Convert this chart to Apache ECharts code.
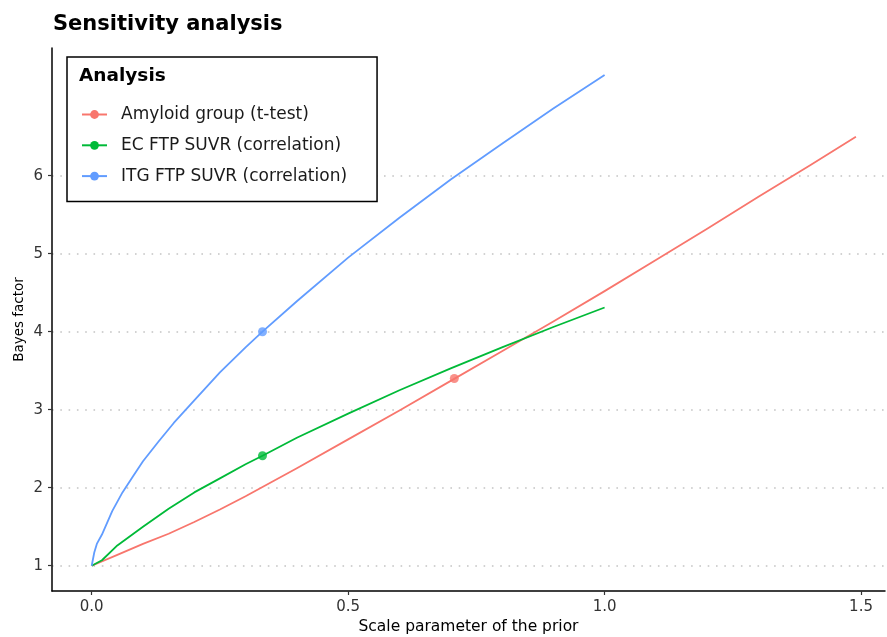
<!DOCTYPE html>
<html>
<head>
<meta charset="utf-8">
<title>Sensitivity analysis</title>
<script src="https://cdn.jsdelivr.net/npm/echarts@6/dist/echarts.min.js"></script>
<style>
  html, body { margin: 0; padding: 0; background: #fff; }
  #chart { width: 887px; height: 637px; }
</style>
</head>
<body>
<div id="chart"></div>
<script>
// values
var seriesNames = ['Amyloid group (t-test)', 'EC FTP SUVR (correlation)', 'ITG FTP SUVR (correlation)'];
var colors = ['#F8766D', '#00BA38', '#619CFF'];

var amyloidX  = [0, 0.05, 0.1, 0.15, 0.2, 0.25, 0.3, 0.35, 0.4, 0.5, 0.6, 0.7, 0.8, 0.9, 1.0, 1.1, 1.2, 1.3, 1.4, 1.49];
var amyloidBF = [1, 1.14, 1.28, 1.41, 1.56, 1.72, 1.89, 2.07, 2.25, 2.62, 2.99, 3.37, 3.75, 4.13, 4.52, 4.92, 5.32, 5.73, 6.13, 6.50];

var ecX  = [0, 0.02, 0.05, 0.1, 0.15, 0.2, 0.25, 0.3, 0.333, 0.4, 0.5, 0.6, 0.7, 0.8, 0.9, 1.0];
var ecBF = [1, 1.07, 1.26, 1.50, 1.73, 1.94, 2.12, 2.30, 2.41, 2.64, 2.95, 3.25, 3.53, 3.80, 4.06, 4.31];

var itgX  = [0, 0.005, 0.01, 0.02, 0.04, 0.06, 0.08, 0.1, 0.13, 0.16, 0.2, 0.25, 0.3, 0.333, 0.4, 0.5, 0.6, 0.7, 0.8, 0.9, 1.0];
var itgBF = [1, 1.17, 1.28, 1.40, 1.70, 1.94, 2.14, 2.34, 2.59, 2.83, 3.12, 3.48, 3.80, 4.00, 4.39, 4.95, 5.46, 5.95, 6.41, 6.86, 7.29];

// the single highlighted point on each curve
var markX  = [0.707, 0.333, 0.333];
var markBF = [3.40, 2.41, 4.00];

var xTicks = [0, 0.5, 1, 1.5];
var yTicks = [1, 2, 3, 4, 5, 6];

function pairs(xs, ys) {
  return xs.map(function (x, i) { return [x, ys[i]]; });
}

var chart = echarts.init(document.getElementById('chart'));
var font = 'DejaVu Sans, Liberation Sans, sans-serif';

var curves = [pairs(amyloidX, amyloidBF), pairs(ecX, ecBF), pairs(itgX, itgBF)];

var series = [];
curves.forEach(function (d, i) {
  series.push({
    name: seriesNames[i],
    type: 'line',
    data: d,
    smooth: false,
    symbol: 'none',
    color: colors[i],
    lineStyle: { width: 1.8, color: colors[i], join: 'round' },
    z: 3
  });
});
markX.forEach(function (x, i) {
  series.push({
    name: 'point ' + i,
    type: 'scatter',
    data: [[x, markBF[i]]],
    symbol: 'circle',
    symbolSize: 9,
    itemStyle: { color: colors[i] },
    z: 4
  });
});

var option = {
  animation: false,
  color: colors,
  title: {
    text: 'Sensitivity analysis',
    left: 48,
    top: 9,
    textStyle: { fontFamily: font, fontSize: 21, fontWeight: 'bold', color: '#000' }
  },
  legend: {
    data: seriesNames,
    orient: 'vertical',
    left: 67,
    top: 57,
    padding: [49, 30, 17, 14],
    itemWidth: 25,
    itemHeight: 11,
    itemGap: 13.8,
    backgroundColor: '#fff',
    borderColor: '#000',
    borderWidth: 1.5,
    textStyle: { fontFamily: font, fontSize: 17, color: '#1a1a1a', lineHeight: 17, padding: [0, 0, 0, 9] }
  },
  graphic: [{
    type: 'text',
    left: 79,
    top: 67,
    z: 100,
    style: { text: 'Analysis', fontFamily: font, fontSize: 18.5, fontWeight: 'bold', fill: '#000' }
  }],
  grid: {
    left: 52, right: 2, top: 48, bottom: 46,
    containLabel: false,
    outerBoundsMode: 'none'
  },
  xAxis: {
    type: 'value',
    min: -0.0774,
    max: 1.5467,
    name: 'Scale parameter of the prior',
    nameLocation: 'middle',
    nameGap: 28,
    nameMoveOverlap: false,
    nameTextStyle: { fontFamily: font, fontSize: 15.5, color: '#000' },
    axisLine: { show: true, onZero: false, lineStyle: { color: '#000', width: 1.5 } },
    axisTick: { show: true, length: 4, customValues: xTicks, lineStyle: { color: '#333', width: 1.2 } },
    axisLabel: {
      customValues: xTicks,
      margin: 9,
      fontFamily: font, fontSize: 15, color: '#333',
      formatter: function (v) { return v.toFixed(1); }
    },
    splitLine: { show: false }
  },
  yAxis: {
    type: 'value',
    min: 0.676,
    max: 7.637,
    name: 'Bayes factor',
    nameLocation: 'middle',
    nameGap: 26,
    nameMoveOverlap: false,
    nameTextStyle: { fontFamily: font, fontSize: 13.5, color: '#000' },
    axisLine: { show: true, onZero: false, lineStyle: { color: '#000', width: 1.5 } },
    axisTick: { show: true, length: 4, customValues: yTicks, lineStyle: { color: '#333', width: 1.2 } },
    axisLabel: {
      customValues: yTicks,
      margin: 9,
      fontFamily: font, fontSize: 15, color: '#333'
    },
    splitLine: { show: true, lineStyle: { color: '#c4c4c4', width: 1.6, type: [1.6, 6.7] } }
  },
  series: series
};

chart.setOption(option);
</script>
</body>
</html>
